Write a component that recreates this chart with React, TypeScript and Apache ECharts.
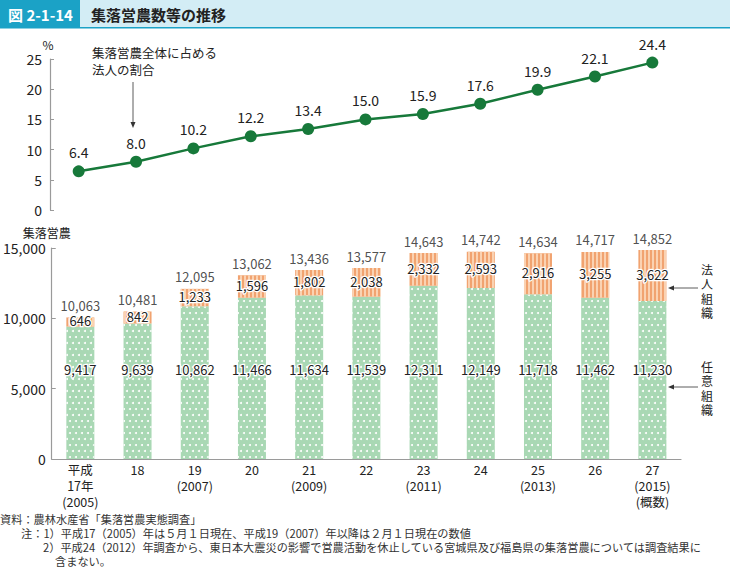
import React, { useEffect, useRef } from "react";
import * as echarts from "echarts";

const categories = [
  "平成\n17年\n(2005)",
  "18",
  "19\n(2007)",
  "20",
  "21\n(2009)",
  "22",
  "23\n(2011)",
  "24",
  "25\n(2013)",
  "26",
  "27\n(2015)\n(概数)",
];
const corporateShare = [6.4, 8.0, 10.2, 12.2, 13.4, 15.0, 15.9, 17.6, 19.9, 22.1, 24.4];
const voluntaryOrgs = [9417, 9639, 10862, 11466, 11634, 11539, 12311, 12149, 11718, 11462, 11230];
const corporateOrgs = [646, 842, 1233, 1596, 1802, 2038, 2332, 2593, 2916, 3255, 3622];
const totalOrgs = [10063, 10481, 12095, 13062, 13436, 13577, 14643, 14742, 14634, 14717, 14852];

const FONT = "'Noto Sans CJK JP', 'Noto Sans', sans-serif";
const fmt = (v: number) => v.toLocaleString("en-US");

export default function App() {
  const ref = useRef<HTMLDivElement>(null);
  useEffect(() => {
    document.body.style.margin = "0";
    const chart = echarts.init(ref.current!, null, { renderer: "svg" });
    const axisGray = "#9a9a9a";
    const noteStyle = (text: string) => ({
      text,
      fill: "#333",
      font: `11.2px ${FONT}`,
      textVerticalAlign: "middle",
    });
    const option: any = {
      animation: false,
      backgroundColor: "#fff",
      textStyle: { fontFamily: FONT, color: "#222" },
      grid: [
        { left: 50, right: 49, top: 59, height: 151 },
        { left: 50, right: 49, top: 248, height: 211 },
      ],
      xAxis: [
        { type: "category", gridIndex: 0, data: categories, show: false, boundaryGap: true },
        {
          type: "category",
          gridIndex: 1,
          data: categories,
          boundaryGap: true,
          axisLine: { lineStyle: { color: axisGray, width: 1.2 } },
          axisTick: { show: false },
          axisLabel: { fontSize: 12.5, lineHeight: 16, margin: 2, color: "#222", fontFamily: FONT },
        },
      ],
      yAxis: [
        {
          type: "value",
          gridIndex: 0,
          min: 0,
          max: 25,
          interval: 5,
          name: "%",
          nameGap: 9,
          nameTextStyle: { fontSize: 12, color: "#222", padding: [0, 4, 0, 0] },
          axisLine: { show: true, lineStyle: { color: axisGray, width: 1.2 } },
          axisTick: { show: true, inside: true, length: 4, lineStyle: { color: axisGray } },
          splitLine: { show: false },
          axisLabel: { fontSize: 14, color: "#222", margin: 8 },
        },
        {
          type: "value",
          gridIndex: 1,
          min: 0,
          max: 15000,
          interval: 5000,
          name: "集落営農",
          nameGap: 10,
          nameTextStyle: { fontSize: 12, color: "#222", padding: [0, 10, 0, 0] },
          axisLine: { show: true, lineStyle: { color: axisGray, width: 1.2 } },
          axisTick: { show: true, inside: true, length: 4, lineStyle: { color: axisGray } },
          splitLine: { show: false },
          axisLabel: { fontSize: 14, color: "#222", margin: 6, formatter: (v: number) => fmt(v) },
        },
      ],
      series: [
        {
          type: "line",
          xAxisIndex: 0,
          yAxisIndex: 0,
          data: corporateShare,
          color: "#17793a",
          lineStyle: { color: "#17793a", width: 2.5 },
          symbol: "circle",
          symbolSize: 12,
          itemStyle: { color: "#17793a" },
          label: {
            show: true,
            position: "top",
            distance: 6,
            fontSize: 14,
            color: "#222",
            formatter: (p: any) => Number(p.value).toFixed(1),
          },
        },
        {
          type: "bar",
          name: "任意組織",
          xAxisIndex: 1,
          yAxisIndex: 1,
          stack: "orgs",
          barWidth: 28,
          data: voluntaryOrgs,
          itemStyle: {
            color: "#a9d8b4",
            decal: {
              symbol: "circle",
              symbolSize: 1,
              color: "#ffffff",
              dashArrayX: [
                [2, 4],
                [0, 3, 2, 1],
              ],
              dashArrayY: [2, 4],
            },
          },
          label: {
            show: true,
            position: "insideBottom",
            distance: 83,
            fontSize: 13,
            color: "#222",
            textBorderColor: "#fff",
            textBorderWidth: 2.5,
            formatter: (p: any) => fmt(p.value),
          },
        },
        {
          type: "bar",
          name: "法人組織",
          xAxisIndex: 1,
          yAxisIndex: 1,
          stack: "orgs",
          barWidth: 28,
          data: corporateOrgs,
          itemStyle: {
            color: "#f1a370",
            decal: {
              symbol: "rect",
              symbolSize: 1,
              color: "#fad2b2",
              dashArrayX: [1.5, 1.5],
              dashArrayY: [1, 0],
            },
          },
          label: {
            show: true,
            position: "inside",
            offset: [0, -1],
            fontSize: 13,
            color: "#222",
            textBorderColor: "#fff",
            textBorderWidth: 2.5,
            formatter: (p: any) => fmt(p.value),
          },
        },
        {
          type: "scatter",
          xAxisIndex: 1,
          yAxisIndex: 1,
          data: totalOrgs,
          symbol: "circle",
          symbolSize: 1,
          itemStyle: { color: "rgba(0,0,0,0)" },
          label: {
            show: true,
            position: "top",
            distance: 5,
            fontSize: 13,
            color: "#222",
            formatter: (p: any) => fmt(p.value),
          },
        },
      ],
      graphic: [
        { type: "rect", shape: { x: 0, y: 0, width: 730, height: 28 }, style: { fill: "#d3edf5" } },
        { type: "rect", shape: { x: 0, y: 0, width: 80, height: 28 }, style: { fill: "#1ba2c6" } },
        { type: "rect", shape: { x: 0, y: 27, width: 730, height: 1.5 }, style: { fill: "#1ba2c6" } },
        {
          type: "text",
          x: 8,
          y: 14,
          style: {
            text: "図 2-1-14",
            fill: "#fff",
            font: `bold 15px ${FONT}`,
            textVerticalAlign: "middle",
          },
        },
        {
          type: "text",
          x: 91,
          y: 14,
          style: {
            text: "集落営農数等の推移",
            fill: "#222",
            font: `bold 15px ${FONT}`,
            textVerticalAlign: "middle",
          },
        },
        {
          type: "text",
          x: 92,
          y: 44,
          style: {
            text: "集落営農全体に占める\n法人の割合",
            fill: "#222",
            font: `12.5px ${FONT}`,
            lineHeight: 17,
          },
        },
        { type: "line", shape: { x1: 133, y1: 82, x2: 133, y2: 124 }, style: { stroke: "#333", lineWidth: 0.8 } },
        { type: "polygon", shape: { points: [[130.5, 122], [135.5, 122], [133, 128]] }, style: { fill: "#333" } },
        { type: "line", shape: { x1: 672, y1: 288, x2: 698, y2: 288 }, style: { stroke: "#333", lineWidth: 0.8 } },
        { type: "polygon", shape: { points: [[668, 288], [674, 285.5], [674, 290.5]] }, style: { fill: "#333" } },
        { type: "line", shape: { x1: 672, y1: 387, x2: 698, y2: 387 }, style: { stroke: "#333", lineWidth: 0.8 } },
        { type: "polygon", shape: { points: [[668, 387], [674, 384.5], [674, 389.5]] }, style: { fill: "#333" } },
        {
          type: "text",
          x: 707,
          y: 262,
          style: {
            text: "法\n人\n組\n織",
            fill: "#222",
            font: `12px ${FONT}`,
            lineHeight: 14.5,
            align: "center",
          },
        },
        {
          type: "text",
          x: 707,
          y: 359,
          style: {
            text: "任\n意\n組\n織",
            fill: "#222",
            font: `12px ${FONT}`,
            lineHeight: 14.5,
            align: "center",
          },
        },
        { type: "text", x: 0, y: 519, style: noteStyle("資料：農林水産省「集落営農実態調査」") },
        {
          type: "text",
          x: 21,
          y: 533,
          style: noteStyle("注：1）平成17（2005）年は５月１日現在、平成19（2007）年以降は２月１日現在の数値"),
        },
        {
          type: "text",
          x: 43,
          y: 547,
          style: noteStyle(
            "2）平成24（2012）年調査から、東日本大震災の影響で営農活動を休止している宮城県及び福島県の集落営農については調査結果に"
          ),
        },
        { type: "text", x: 55, y: 561, style: noteStyle("含まない。") },
      ],
    };
    chart.setOption(option);
    return () => chart.dispose();
  }, []);
  return (
    <div
      ref={ref}
      style={{ position: "fixed", left: 0, top: 0, width: 730, height: 567 }}
    />
  );
}
